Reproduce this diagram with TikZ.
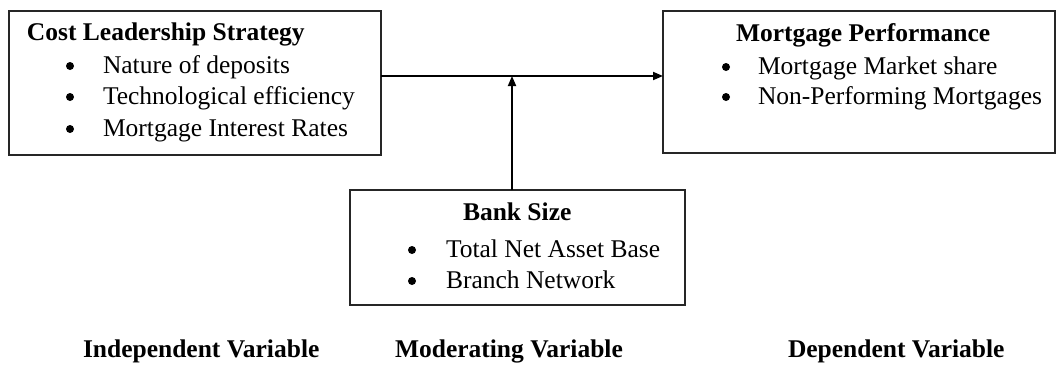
\documentclass[tikz,border=0pt]{standalone}
\usepackage{fontspec}
\setmainfont{Liberation Serif}[BoldFont={Liberation Serif Bold}]
\newfontfamily\timesfont{Liberation Serif}[BoldFont={Liberation Serif Bold}]
\usetikzlibrary{arrows.meta}

\begin{document}
\begin{tikzpicture}[x=1pt,y=-1pt,
  every node/.style={font=\timesfont\fontsize{25.5}{30}\selectfont, inner sep=0pt, outer sep=0pt},
  box/.style={draw=black!85, line width=1.8pt, rectangle},
  head/.style={anchor=base west, font=\timesfont\fontsize{25.5}{30}\selectfont\bfseries},
  item/.style={anchor=base west},
  bul/.style={circle, fill=black, minimum size=8pt},
  link/.style={draw=black, line width=1.8pt, -{Triangle[length=10pt,width=8pt]}}
]
\useasboundingbox (0,0) rectangle (1056,365);

% Boxes
\node[box, minimum width=372pt, minimum height=144pt] (cls) at (195,83) {};
\node[box, minimum width=392pt, minimum height=142pt] (mp) at (859,82) {};
\node[box, minimum width=335pt, minimum height=115pt] (bs) at (517.5,247.5) {};

% Independent variable: cost leadership strategy
\node[head] (clsT) at (27,40) {Cost Leadership Strategy};
\node[bul] (clsB1) at (70,66) {};
\node[item] (clsI1) at (103,73) {Nature of deposits};
\node[bul] (clsB2) at (70,97) {};
\node[item] (clsI2) at (103,104) {Technological efficiency};
\node[bul] (clsB3) at (70,129) {};
\node[item] (clsI3) at (103,136) {Mortgage Interest Rates};

% Dependent variable: mortgage performance
\node[head] (mpT) at (736,41) {Mortgage Performance};
\node[bul] (mpB1) at (726,67) {};
\node[item] (mpI1) at (758,74) {Mortgage Market share};
\node[bul] (mpB2) at (726,97) {};
\node[item] (mpI2) at (758,104) {Non-Performing Mortgages};

% Moderating variable: bank size
\node[head] (bsT) at (463,220) {Bank Size};
\node[bul] (bsB1) at (412,250) {};
\node[item] (bsI1) at (446,257) {Total Net Asset Base};
\node[bul] (bsB2) at (412,281) {};
\node[item] (bsI2) at (446,288) {Branch Network};

% Connectors
\coordinate (mid) at (512,76);
\draw[link] (cls.east |- mid) -- (mp.west |- mid);
\draw[link] (bs.north -| mid) -- (mid);

% Variable labels
\node[head] (lblI) at (83,357) {Independent Variable};
\node[head] (lblM) at (395,357) {Moderating Variable};
\node[head] (lblD) at (788,357) {Dependent Variable};
\end{tikzpicture}
\end{document}
